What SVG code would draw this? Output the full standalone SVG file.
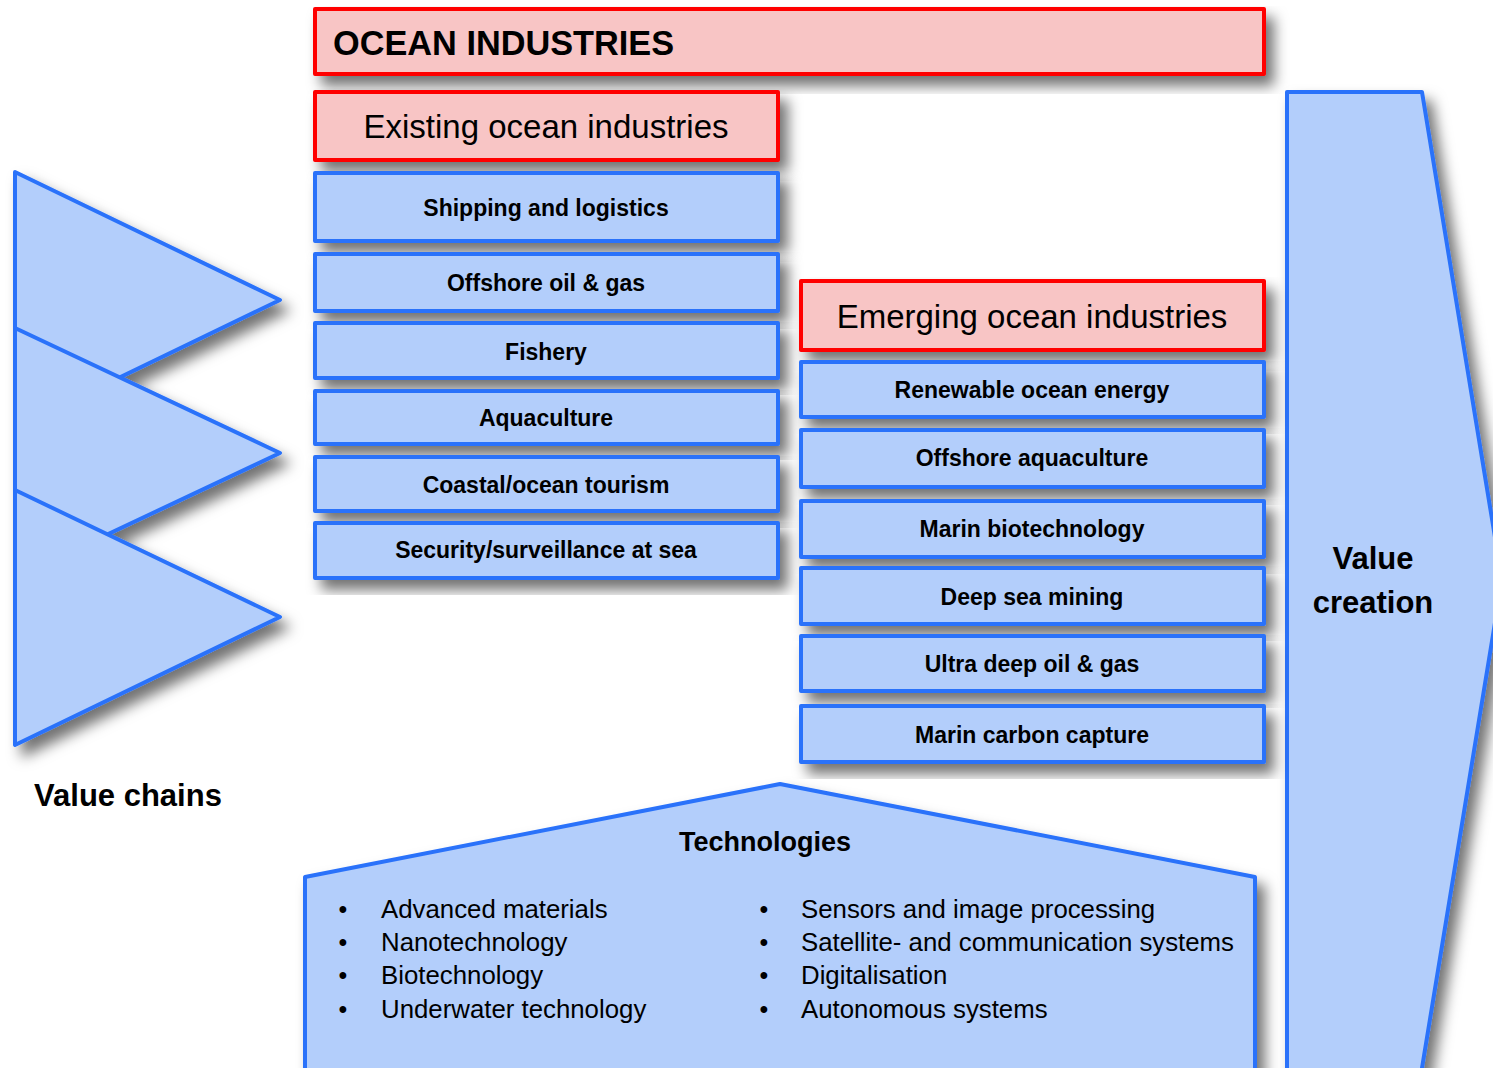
<svg xmlns="http://www.w3.org/2000/svg" width="1493" height="1068" viewBox="0 0 1493 1068">
<defs>
<filter id="sh" x="-20%" y="-20%" width="150%" height="150%">
<feGaussianBlur in="SourceAlpha" stdDeviation="7"/>
<feOffset dx="8" dy="10" result="b"/>
<feFlood flood-color="#000" flood-opacity="0.55"/>
<feComposite in2="b" operator="in"/>
<feMerge><feMergeNode/><feMergeNode in="SourceGraphic"/></feMerge>
</filter>
<style>
.pk{fill:#f8c5c5;stroke:#ff0000;stroke-width:4;stroke-linejoin:round}
.bl{fill:#b3cefb;stroke:#2a72fa;stroke-width:4;stroke-linejoin:round}
text{font-family:"Liberation Sans",Arial,sans-serif;fill:#000}
.lb{font-size:23px;font-weight:bold;text-anchor:middle}
.hd{font-size:33px;text-anchor:middle}
.bt{font-size:25.8px}
.bu{font-size:25px;text-anchor:middle}
.big{font-size:31px;font-weight:bold;text-anchor:middle}
</style>
</defs>
<rect width="1493" height="1068" fill="#fff"/>

<g id="value-chains" filter="url(#sh)">
<polygon class="bl" points="15,172 280,300 15,428"/>
<polygon class="bl" points="15,328 280,453 15,578"/>
<polygon class="bl" points="15,490 280,617 15,745"/>
</g>
<g id="value-chains-label"><text class="big" x="128" y="806">Value chains</text></g>

<g id="value-creation">
<polygon class="bl" filter="url(#sh)" points="1287,92 1422,92 1502,580 1422,1068 1420,1090 1287,1090"/>
<text class="big" x="1373" y="569">Value</text>
<text class="big" x="1373" y="613">creation</text>
</g>

<g id="ocean-industries">
<rect class="pk" filter="url(#sh)" x="315" y="9" width="949" height="65"/>
<text x="333" y="55" style="font-size:34.3px;font-weight:bold">OCEAN INDUSTRIES</text>
</g>

<g id="existing">
<rect class="pk" filter="url(#sh)" x="315" y="92" width="463" height="68"/>
<text class="hd" x="546" y="138">Existing ocean industries</text>
</g>
<g id="shipping"><rect class="bl" filter="url(#sh)" x="315" y="173" width="463" height="68"/><text class="lb" x="546" y="216">Shipping and logistics</text></g>
<g id="offshore-oil"><rect class="bl" filter="url(#sh)" x="315" y="254" width="463" height="57"/><text class="lb" x="546" y="291">Offshore oil &amp; gas</text></g>
<g id="fishery"><rect class="bl" filter="url(#sh)" x="315" y="323" width="463" height="55"/><text class="lb" x="546" y="360">Fishery</text></g>
<g id="aquaculture"><rect class="bl" filter="url(#sh)" x="315" y="391" width="463" height="53"/><text class="lb" x="546" y="426">Aquaculture</text></g>
<g id="tourism"><rect class="bl" filter="url(#sh)" x="315" y="457" width="463" height="54"/><text class="lb" x="546" y="493">Coastal/ocean tourism</text></g>
<g id="security"><rect class="bl" filter="url(#sh)" x="315" y="523" width="463" height="55"/><text class="lb" x="546" y="558">Security/surveillance at sea</text></g>

<g id="emerging">
<rect class="pk" filter="url(#sh)" x="801" y="281" width="463" height="69"/>
<text class="hd" x="1032" y="328">Emerging ocean industries</text>
</g>
<g id="renewable"><rect class="bl" filter="url(#sh)" x="801" y="362" width="463" height="55"/><text class="lb" x="1032" y="398">Renewable ocean energy</text></g>
<g id="offshore-aqua"><rect class="bl" filter="url(#sh)" x="801" y="430" width="463" height="57"/><text class="lb" x="1032" y="466">Offshore aquaculture</text></g>
<g id="biotech"><rect class="bl" filter="url(#sh)" x="801" y="501" width="463" height="56"/><text class="lb" x="1032" y="537">Marin biotechnology</text></g>
<g id="deep-sea"><rect class="bl" filter="url(#sh)" x="801" y="568" width="463" height="56"/><text class="lb" x="1032" y="605">Deep sea mining</text></g>
<g id="ultra-deep"><rect class="bl" filter="url(#sh)" x="801" y="636" width="463" height="55"/><text class="lb" x="1032" y="672">Ultra deep oil &amp; gas</text></g>
<g id="carbon"><rect class="bl" filter="url(#sh)" x="801" y="706" width="463" height="56"/><text class="lb" x="1032" y="743">Marin carbon capture</text></g>

<g id="technologies">
<polygon class="bl" filter="url(#sh)" points="305,877 780,784 1255,877 1255,1090 305,1090"/>
<text class="big" x="765" y="851" style="font-size:27px">Technologies</text>
<text class="bu" x="343" y="918">•</text><text class="bt" x="381" y="918">Advanced materials</text>
<text class="bu" x="343" y="951">•</text><text class="bt" x="381" y="951">Nanotechnology</text>
<text class="bu" x="343" y="984">•</text><text class="bt" x="381" y="984">Biotechnology</text>
<text class="bu" x="343" y="1018">•</text><text class="bt" x="381" y="1018">Underwater technology</text>
<text class="bu" x="764" y="918">•</text><text class="bt" x="801" y="918">Sensors and image processing</text>
<text class="bu" x="764" y="951">•</text><text class="bt" x="801" y="951">Satellite- and communication systems</text>
<text class="bu" x="764" y="984">•</text><text class="bt" x="801" y="984">Digitalisation</text>
<text class="bu" x="764" y="1018">•</text><text class="bt" x="801" y="1018">Autonomous systems</text>
</g>

<g id="connectors"/>
</svg>
